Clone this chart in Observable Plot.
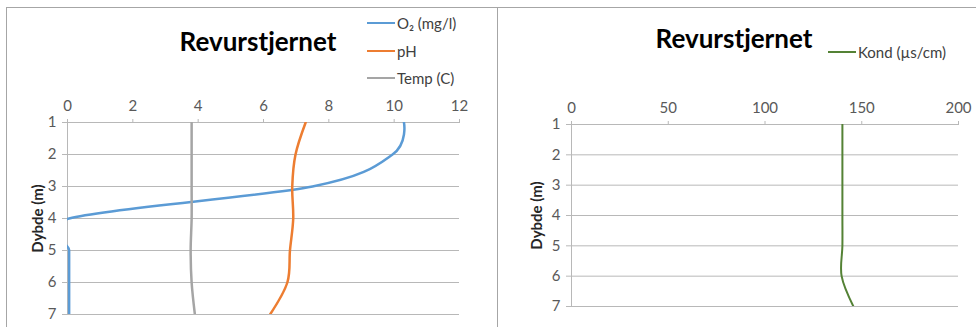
<!DOCTYPE html>
<html><head><meta charset="utf-8">
<script src="https://cdn.jsdelivr.net/npm/d3@7"></script>
<script src="https://cdn.jsdelivr.net/npm/@observablehq/plot@0.6"></script>
<style>
body{margin:0;background:#fff;font-family:Lato,"Open Sans",sans-serif;}
#wrap{position:relative;width:976px;height:327px;overflow:hidden;background:#fff;}
.panel{position:absolute;top:0;}
.title{position:absolute;font-weight:bold;font-size:26px;color:#000;transform:translate(-50%,-50%);white-space:nowrap;}
.leg{position:absolute;font-size:15px;color:#404040;display:flex;align-items:center;white-space:nowrap;transform:translateY(-50%);}
.leg .sw{display:inline-block;width:28px;height:0;border-top:2.5px solid;margin-right:2px;}
.bd{position:absolute;background:#a6a6a6;}
</style></head>
<body>
<div id="wrap"></div>
<script>
const depth = [1, 2, 3, 4, 5, 6, 7];
const o2 = [10.3, 9.95, 7.5, 0.05, 0.05, 0.05, 0.05];
const ph = [7.29, 6.98, 6.88, 6.91, 6.81, 6.73, 6.2];
const temp = [3.8, 3.8, 3.8, 3.8, 3.77, 3.8, 3.9];
const kond = [140, 140, 140, 140, 140, 139.6, 145.7];
const xTicksL = [0, 2, 4, 6, 8, 10, 12];
const xTicksR = [0, 50, 100, 150, 200];
const seriesL = [
  {name: "O₂ (mg/l)", values: o2, color: "#5B9BD5"},
  {name: "pH", values: ph, color: "#ED7D31"},
  {name: "Temp (C)", values: temp, color: "#A5A5A5"}
];
const seriesR = [{name: "Kond (µs/cm)", values: kond, color: "#548235"}];
const titleText = "Revurstjernet";
const yLabel = "Dybde (m)";

const wrap = document.getElementById("wrap");
const grid = "#b8b8b8";

function panel({left, width, mTop, mBottom, mLeft, mRight, xDomain, xTicks, series, labelDx, sw}) {
  const marks = [
    Plot.ruleY(depth, {x1: xDomain[0], x2: xDomain[1], stroke: grid}),
    Plot.ruleX([xDomain[0]], {y1: 1, y2: 7, stroke: grid}),
    Plot.axisX({anchor: "top", ticks: xTicks, tickSize: 4, tickPadding: 8, label: null, stroke: grid, fill: "#595959", tickFormat: d => d}),
    Plot.axisY({anchor: "left", ticks: depth, tickSize: 5, tickPadding: 6, label: null, stroke: grid, fill: "#595959", tickFormat: d => d}),
    Plot.text([yLabel], {text: d => d, frameAnchor: "left", textAnchor: "middle", dx: labelDx, rotate: -90, fontWeight: "bold", fontSize: 15, fill: "#262626"})
  ];
  for (const s of series) {
    marks.push(Plot.line(depth, {x: (d, i) => s.values[i], y: d => d, curve: "cardinal", stroke: s.color, strokeWidth: sw, clip: true}));
  }
  const svg = Plot.plot({
    width, height: 327,
    marginTop: mTop, marginBottom: mBottom, marginLeft: mLeft, marginRight: mRight,
    x: {domain: xDomain},
    y: {domain: [1, 7], reverse: true},
    style: {fontSize: "15px", fontFamily: "Lato, 'Open Sans', sans-serif", background: "transparent"},
    marks
  });
  const div = document.createElement("div");
  div.className = "panel";
  div.style.left = left + "px";
  div.appendChild(svg);
  wrap.appendChild(div);
}

panel({left: 0, width: 490, mTop: 122, mBottom: 13, mLeft: 67, mRight: 31, xDomain: [0, 12], xTicks: xTicksL, series: seriesL, labelDx: -29, sw: 2.5});
panel({left: 490, width: 486, mTop: 124, mBottom: 21, mLeft: 81, mRight: 18, xDomain: [0, 200], xTicks: xTicksR, series: seriesR, labelDx: -34, sw: 2});

function addText(cls, x, y, html) {
  const d = document.createElement("div");
  d.className = cls; d.style.left = x + "px"; d.style.top = y + "px";
  d.innerHTML = html; wrap.appendChild(d); return d;
}
addText("title", 258, 41, titleText);
addText("title", 734, 38, titleText);
const legRowsL = [23, 51, 78];
seriesL.forEach((s, i) => {
  addText("leg", 367, legRowsL[i], `<span class="sw" style="border-color:${s.color}"></span>${s.name}`);
});
seriesR.forEach((s) => {
  addText("leg", 828, 52, `<span class="sw" style="border-color:${s.color}"></span>${s.name}`);
});
// chart borders
function bd(x, y, w, h) { const d = document.createElement("div"); d.className = "bd"; Object.assign(d.style, {left: x + "px", top: y + "px", width: w + "px", height: h + "px"}); wrap.appendChild(d); }
bd(6, 7, 970, 1);
bd(6, 7, 1, 320);
bd(497, 7, 1, 320);
</script>
</body></html>
